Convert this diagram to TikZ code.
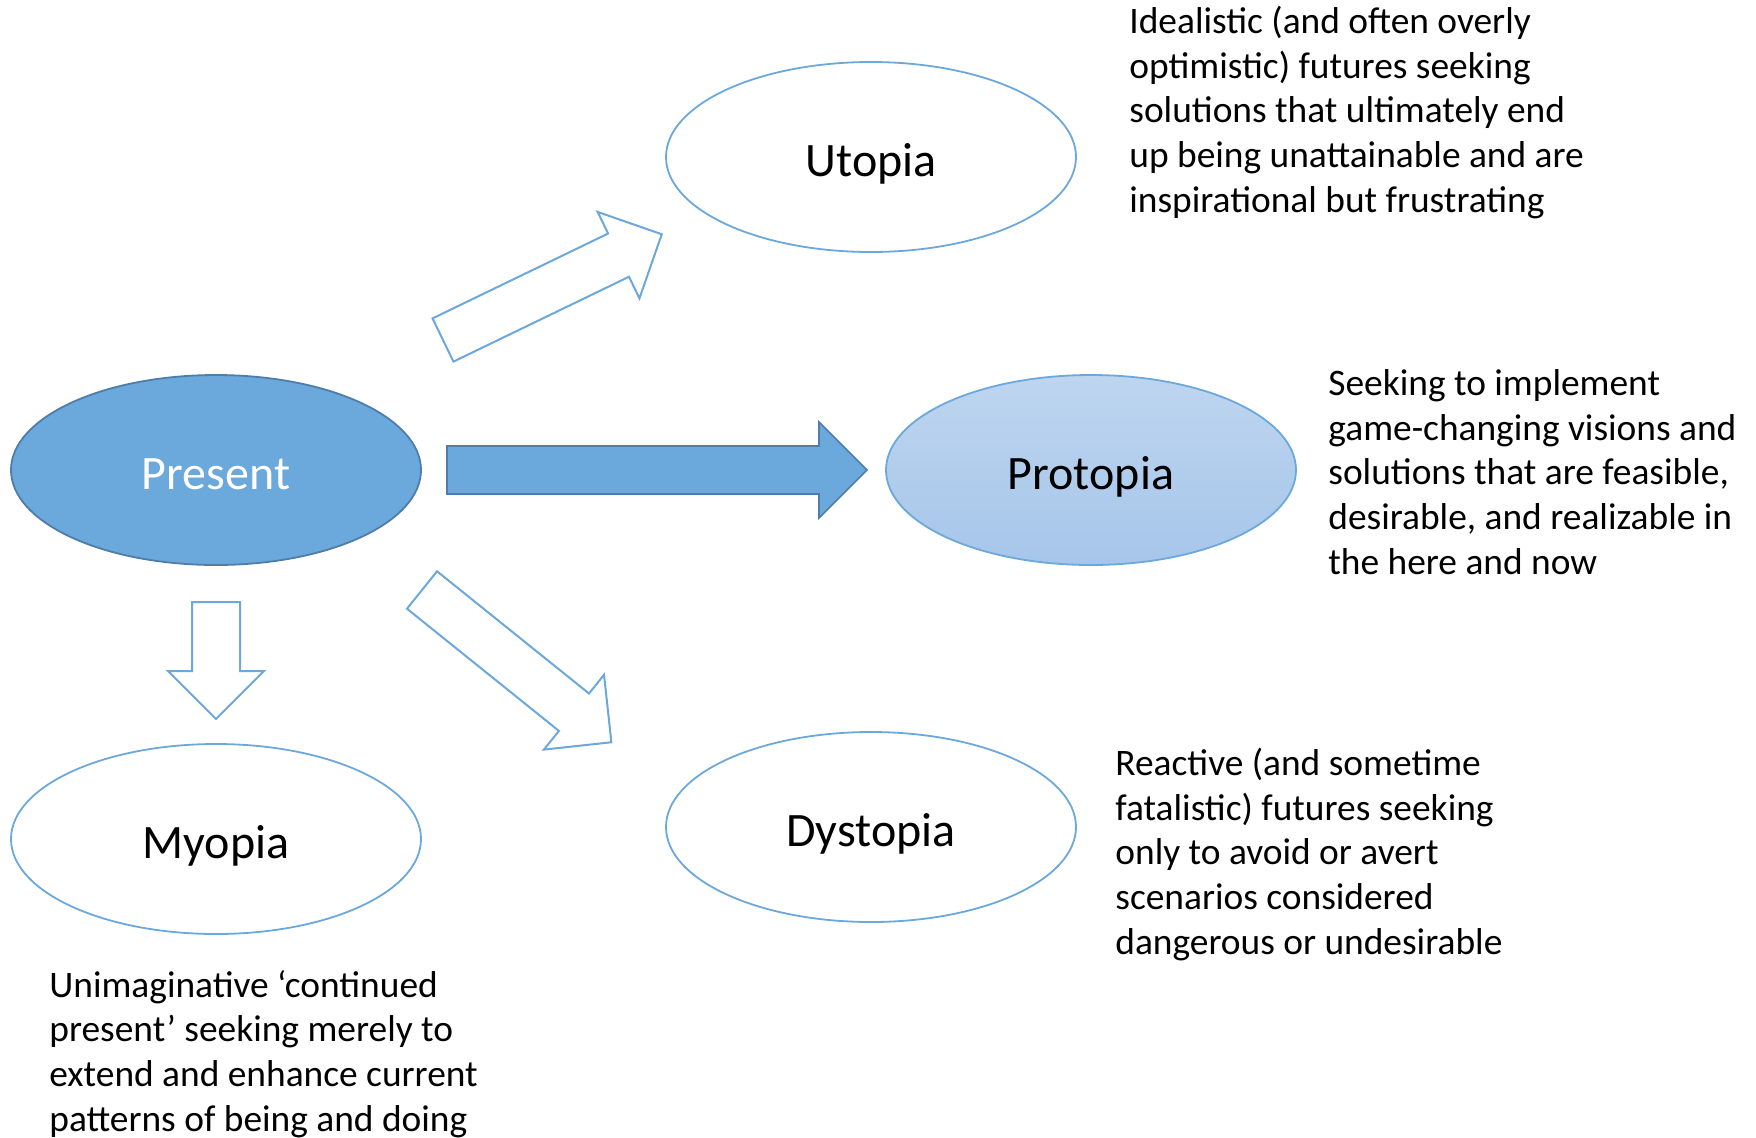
\documentclass[tikz,border=0pt]{standalone}
\usepackage{fontspec}
\setmainfont{Carlito}
\usetikzlibrary{shapes.geometric}

\definecolor{presfill}{RGB}{107,168,219}
\definecolor{presline}{RGB}{78,125,172}
\definecolor{lineblue}{RGB}{108,168,220}
\definecolor{prototop}{RGB}{190,213,239}
\definecolor{protobot}{RGB}{166,198,234}

\begin{document}
\begin{tikzpicture}[x=0.5pt, y=-0.5pt,
    bubble/.style={draw=lineblue, line width=0.9pt, fill=white, ellipse, minimum width=205pt, minimum height=95pt, inner sep=0pt, text height=19pt, text depth=0pt, font=\fontsize{24}{28}\selectfont},
    desc/.style={anchor=base west, align=left, inner sep=0pt, font=\fontsize{18.7}{22.3}\selectfont},
    hollow/.style={draw=lineblue, line width=1pt, fill=white},
    solid/.style={draw=presline, line width=0.8pt, fill=presfill},
    pics/blockarrow/.style 2 args={code={
        \draw[#2] (0,-24) -- (#1-48,-24) -- (#1-48,-48) -- (#1,0) -- (#1-48,48) -- (#1-48,24) -- (0,24) -- cycle;
    }}]
    \useasboundingbox (0,0) rectangle (1756,1137);

    % the five futures
    \node[bubble, draw=presline, fill=presfill, text=white] (present) at (216,470) {Present};
    \node[bubble] (utopia) at (871,157) {Utopia};
    \node[bubble, top color=prototop, bottom color=protobot] (protopia) at (1091,470) {Protopia};
    \node[bubble] (myopia) at (216,839) {Myopia};
    \node[bubble] (dystopia) at (871,827) {Dystopia};

    % block arrows
    \pic[rotate=25.8] at (443,340) {blockarrow={243}{hollow}};
    \pic at (447,470) {blockarrow={420}{solid}};
    \pic[rotate=-90] at (216,602) {blockarrow={117}{hollow}};
    \pic[rotate=-38.8] at (422,590) {blockarrow={243}{hollow}};

    % descriptions (anchored on the last line)
    \node[desc] (utotext) at (1129,212) {Idealistic (and often overly\\optimistic) futures seeking\\solutions that ultimately end\\up being unattainable and are\\inspirational but frustrating};
    \node[desc] (prototext) at (1328,574) {Seeking to implement\\game-changing visions and\\solutions that are feasible,\\desirable, and realizable in\\the here and now};
    \node[desc] (dystext) at (1115,954) {Reactive (and sometime\\fatalistic) futures seeking\\only to avoid or avert\\scenarios considered\\dangerous or undesirable};
    \node[desc] (myotext) at (49,1131) {Unimaginative ‘continued\\present’ seeking merely to\\extend and enhance current\\patterns of being and doing};
\end{tikzpicture}
\end{document}
